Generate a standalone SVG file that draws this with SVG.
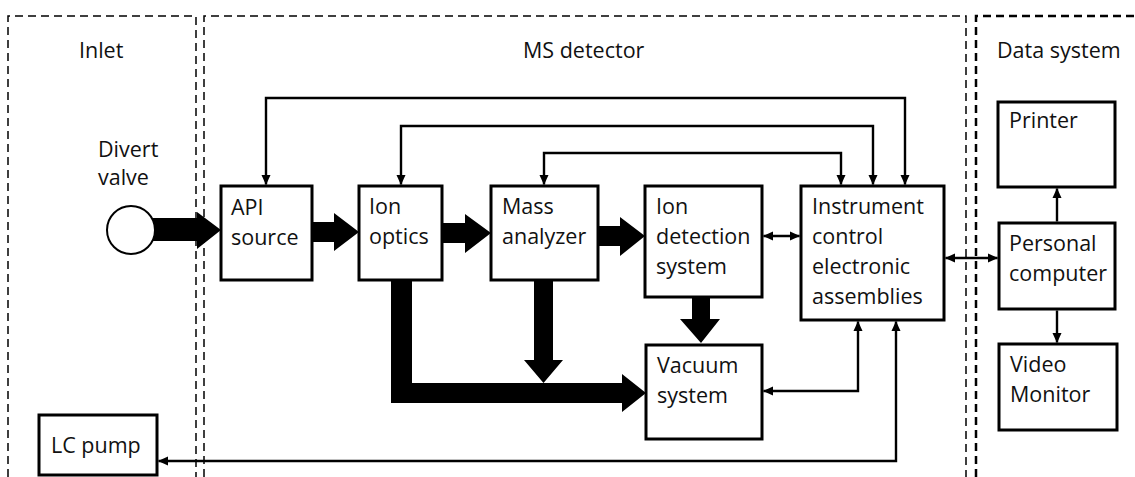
<svg xmlns="http://www.w3.org/2000/svg" width="1135" height="477" viewBox="0 0 1135 477">
<defs>
<style>
.bg{fill:#fff}
.zone{fill:none;stroke:#000;stroke-width:1.5;stroke-dasharray:8 5}
.zone2{fill:none;stroke:#000;stroke-width:2.5;stroke-dasharray:8 5}
.box{fill:#fff;stroke:#000;stroke-width:3}
.t{font-family:"Open Sans","Liberation Sans",sans-serif;font-size:21.5px;fill:#111}
.thick{fill:#000;stroke:none}
.wire{fill:none;stroke:#000;stroke-width:2.4}
.ar{marker-end:url(#ah)}
.ar2{marker-start:url(#ah);marker-end:url(#ah)}
</style>
<marker id="ah" markerUnits="userSpaceOnUse" markerWidth="10" markerHeight="10" viewBox="0 0 10 10" refX="9.5" refY="5" orient="auto-start-reverse">
<path d="M0,0.5 L10,5 L0,9.5 z" fill="#000"/>
</marker>
</defs>
<rect class="bg" x="0" y="0" width="1135" height="477"/>
<g id="zones">
<path class="zone" d="M8,477 V16 H196 V477"/>
<path class="zone" d="M204,477 V16 H966 V477"/>
<path class="zone2" d="M976,477 V16 H1135"/>
<text class="t" x="79" y="58">Inlet</text>
<text class="t" x="523" y="58">MS detector</text>
<text class="t" x="997" y="58">Data system</text>
</g>
<g id="connectors">
<path class="thick" d="M140,218 H197 V212 L221,230 L197,249 V241 H140 z"/>
<path class="thick" d="M312,222 H334 V213 L359,232 L334,251 V242 H312 z"/>
<path class="thick" d="M442,223 H465 V214 L491,233 L465,253 V243 H442 z"/>
<path class="thick" d="M598,226 H620 V217 L645,236 L620,256 V246 H598 z"/>
<path class="thick" d="M391,280 H412 V383 H622 V374 L646,393 L622,412 V403 H391 z"/>
<path class="thick" d="M534,280 H553 V360 H563 L543.5,383 L524,360 H534 z"/>
<path class="thick" d="M692,297 H710 V319 H720 L701,343 L680,319 H692 z"/>
<path class="wire ar2" d="M266,184.5 V98 H905 V184.5"/>
<path class="wire ar2" d="M401,184.5 V126 H873 V184.5"/>
<path class="wire ar2" d="M544,184.5 V153 H841 V184.5"/>
<path class="wire ar2" d="M763.5,236 H799.5"/>
<path class="wire ar2" d="M945.5,258 H997.5"/>
<path class="wire ar" d="M1057,221.5 V188.5"/>
<path class="wire ar" d="M1057,310.5 V342.5"/>
<path class="wire ar2" d="M858,321.5 V391 H763.5"/>
<path class="wire ar2" d="M896,321.5 V461 H158.5"/>
</g>
<g id="divert-valve">
<circle cx="131" cy="230" r="24" fill="#fff" stroke="#000" stroke-width="2"/>
<text class="t" x="98" y="157">Divert</text>
<text class="t" x="98" y="185">valve</text>
</g>
<g id="api-source">
<rect class="box" x="221" y="186" width="91" height="94"/>
<text class="t" x="231" y="215">API</text>
<text class="t" x="231" y="245">source</text>
</g>
<g id="ion-optics">
<rect class="box" x="359" y="186" width="83" height="94"/>
<text class="t" x="369" y="214">Ion</text>
<text class="t" x="369" y="244">optics</text>
</g>
<g id="mass-analyzer">
<rect class="box" x="491" y="186" width="107" height="94"/>
<text class="t" x="502" y="214">Mass</text>
<text class="t" x="502" y="244">analyzer</text>
</g>
<g id="ion-detection">
<rect class="box" x="645" y="186" width="117" height="111"/>
<text class="t" x="656" y="214">Ion</text>
<text class="t" x="656" y="244">detection</text>
<text class="t" x="656" y="274">system</text>
</g>
<g id="vacuum-system">
<rect class="box" x="646" y="345" width="116" height="94"/>
<text class="t" x="657" y="373">Vacuum</text>
<text class="t" x="657" y="403">system</text>
</g>
<g id="instrument-control">
<rect class="box" x="801" y="186" width="143" height="134"/>
<text class="t" x="812" y="214">Instrument</text>
<text class="t" x="812" y="244">control</text>
<text class="t" x="812" y="274">electronic</text>
<text class="t" x="812" y="304">assemblies</text>
</g>
<g id="printer">
<rect class="box" x="998" y="102" width="117" height="85"/>
<text class="t" x="1009" y="128">Printer</text>
</g>
<g id="personal-computer">
<rect class="box" x="999" y="223" width="116" height="86"/>
<text class="t" x="1009" y="251">Personal</text>
<text class="t" x="1009" y="281">computer</text>
</g>
<g id="video-monitor">
<rect class="box" x="999" y="344" width="118" height="86"/>
<text class="t" x="1010" y="372">Video</text>
<text class="t" x="1010" y="402">Monitor</text>
</g>
<g id="lc-pump">
<rect class="box" x="39" y="415" width="118" height="60"/>
<text class="t" x="51" y="453">LC pump</text>
</g>
</svg>
